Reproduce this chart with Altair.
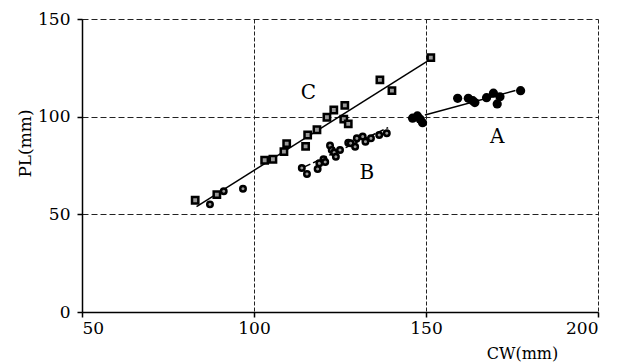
import altair as alt
import pandas as pd

# Series A (large filled circles)
A_cw = [146.1, 147.5, 148.3, 149.0, 159.2, 162.3, 163.6, 164.2, 167.6, 169.6, 171.5, 170.7, 177.5]
A_pl = [99.2, 100.4, 98.7, 96.9, 109.4, 109.4, 108.2, 107.2, 109.7, 112.0, 110.2, 106.5, 113.3]

# Series B (small open circles)
B_cw = [87.2, 91.2, 96.8, 113.9, 115.4, 118.5, 119.0, 120.2, 120.7, 122.1, 122.6, 123.3, 123.8,
        125.0, 127.4, 128.1, 129.4, 129.9, 131.6, 132.4, 134.0, 136.4, 138.6]
B_pl = [55.1, 61.8, 63.1, 73.7, 70.7, 73.2, 76.1, 78.2, 76.8, 85.2, 82.9, 81.6, 79.5,
        82.9, 86.7, 86.4, 84.6, 88.9, 89.8, 87.2, 88.9, 90.6, 91.5]

# Series C (squares)
C_cw = [82.9, 89.2, 103.1, 105.5, 108.7, 109.5, 115.0, 115.6, 118.3, 121.2, 123.2, 126.4,
        126.1, 127.4, 136.6, 140.1, 151.4]
C_pl = [57.2, 60.1, 77.7, 78.2, 82.1, 86.2, 84.8, 90.6, 93.3, 99.7, 103.4, 105.8,
        98.7, 96.3, 118.8, 113.3, 130.2]

# Regression line endpoints
lineA_cw = [149.7, 176.0]
lineA_pl = [100.9, 113.4]
lineB_cw = [114.8, 139.0]
lineB_pl = [74.4, 94.4]
lineC_cw = [83.3, 150.2]
lineC_pl = [53.9, 128.2]

# Series labels
lab_text = ["A", "B", "C"]
lab_cw = [170.7, 132.8, 115.8]
lab_pl = [89.8, 71.0, 112.0]

x_ticks = [50, 100, 150, 200]
y_ticks = [0, 50, 100, 150]

FONT = "DejaVu Serif"

xs = alt.Scale(domain=[50, 200], nice=False, zero=False)
ys = alt.Scale(domain=[0, 150], nice=False, zero=False)

xaxis = alt.Axis(values=x_ticks, title="CW(mm)", grid=True, gridDash=[4, 2],
                 gridColor="#222", labelPadding=3, titleX=440, titleY=46,
                 titleAlign="center", titleBaseline="alphabetic", titleFontSize=16)
yaxis = alt.Axis(values=y_ticks, title="PL(mm)", grid=True, gridDash=[6, 3],
                 gridColor="#222", labelPadding=7, titleX=-57, titleY=124,
                 titleAlign="center", titleBaseline="middle", titleAngle=-90)

dfA = pd.DataFrame({"cw": A_cw, "pl": A_pl})
dfB = pd.DataFrame({"cw": B_cw, "pl": B_pl})
dfC = pd.DataFrame({"cw": C_cw, "pl": C_pl})
dlA = pd.DataFrame({"cw": lineA_cw, "pl": lineA_pl})
dlB = pd.DataFrame({"cw": lineB_cw, "pl": lineB_pl})
dlC = pd.DataFrame({"cw": lineC_cw, "pl": lineC_pl})
dlab = pd.DataFrame({"t": lab_text, "cw": lab_cw, "pl": lab_pl})

base_x = alt.X("cw:Q", scale=xs, axis=xaxis)
base_y = alt.Y("pl:Q", scale=ys, axis=yaxis)
px = alt.X("cw:Q", scale=xs)
py = alt.Y("pl:Q", scale=ys)

lineC = alt.Chart(dlC).mark_line(color="black", strokeWidth=1.5).encode(x=base_x, y=base_y)
lineB = alt.Chart(dlB).mark_line(color="black", strokeWidth=1.5, strokeDash=[6, 3]).encode(x=px, y=py)
lineA = alt.Chart(dlA).mark_line(color="black", strokeWidth=1.5).encode(x=px, y=py)

ptsC = alt.Chart(dfC).mark_point(shape="square", filled=True, fill="#999", stroke="black",
                                 strokeWidth=2.5, size=40, opacity=1).encode(x=px, y=py)
ptsB = alt.Chart(dfB).mark_point(shape="circle", filled=True, fill="#999", stroke="black",
                                 strokeWidth=2.5, size=30, opacity=1).encode(x=px, y=py)
ptsA = alt.Chart(dfA).mark_point(shape="circle", filled=True, color="black",
                                 size=85, opacity=1).encode(x=px, y=py)

labels = alt.Chart(dlab).mark_text(font=FONT, fontSize=20, color="black").encode(
    x=px, y=py, text="t:N")

chart = alt.layer(lineC, lineB, lineA, ptsC, ptsB, ptsA, labels).properties(
    width=516, height=293,
    autosize=alt.AutoSizeParams(type="none"),
    padding={"left": 74, "top": 11, "right": 20, "bottom": 50},
).configure_view(stroke=None).configure_axis(
    labelFont=FONT, labelFontSize=17, labelColor="black",
    titleFont=FONT, titleFontSize=17, titleColor="black", titleFontWeight="normal",
    domainColor="black", domainWidth=1.5, tickColor="black", tickSize=5, tickWidth=1.5,
    gridWidth=1, gridOpacity=1,
)

chart.save("out.html", embed_options={"renderer": "svg", "actions": False})
